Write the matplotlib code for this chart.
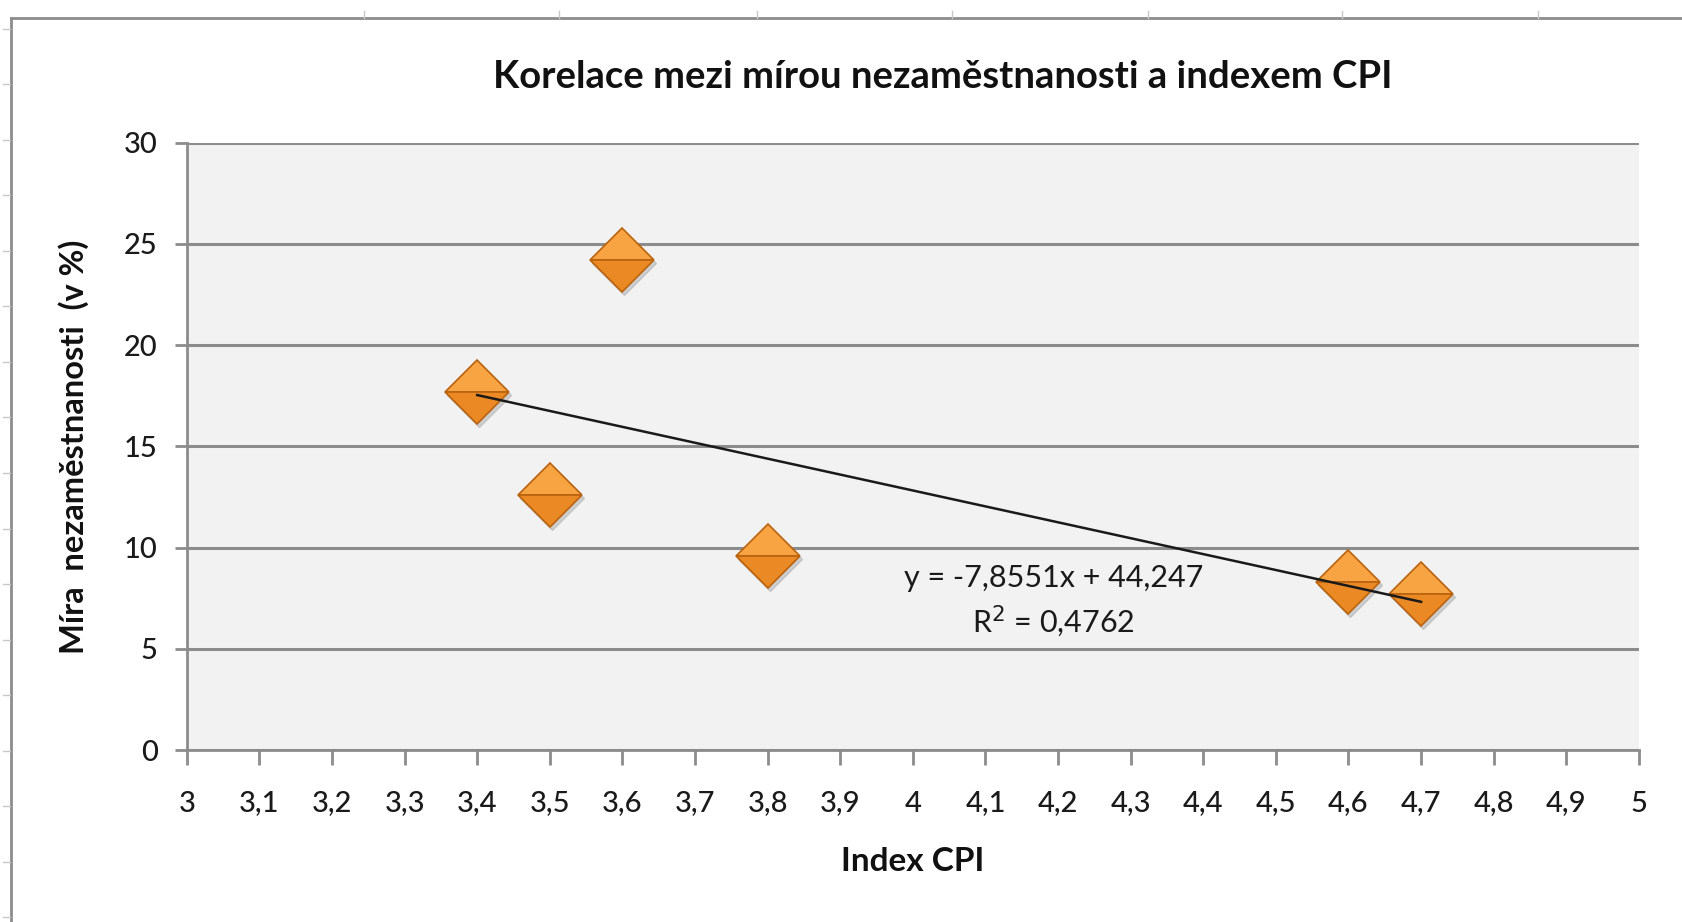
import matplotlib.pyplot as plt
import matplotlib.transforms as mtransforms
from matplotlib.lines import Line2D
import numpy as np

plt.rcParams['font.family'] = ['Lato', 'DejaVu Sans']

# data
cpi = [3.4, 3.5, 3.6, 3.8, 4.6, 4.7]
unemployment = [17.7, 12.6, 24.2, 9.6, 8.3, 7.7]
x_ticks = [3.0, 3.1, 3.2, 3.3, 3.4, 3.5, 3.6, 3.7, 3.8, 3.9, 4.0,
           4.1, 4.2, 4.3, 4.4, 4.5, 4.6, 4.7, 4.8, 4.9, 5.0]
y_ticks = [0, 5, 10, 15, 20, 25, 30]
slope = -7.8551
intercept = 44.247
r2 = 0.4762

def cz(v):
    # czech decimal comma
    return ('%g' % v).replace('.', ',')

fig = plt.figure(figsize=(16.83, 9.22), dpi=100)
ax = fig.add_axes([0.111, 0.1863, 0.8628, 0.6589])
ax.set_facecolor('#f2f2f2')

ax.set_xlim(3, 5)
ax.set_ylim(0, 30)
ax.set_xticks(x_ticks)
ax.set_xticklabels([cz(v) for v in x_ticks])
ax.set_yticks(y_ticks)
ax.set_yticklabels([cz(v) for v in y_ticks])

ax.grid(axis='y', color='#8c8c8c', linewidth=2.2)
ax.set_axisbelow(True)
for side in ['top', 'right']:
    ax.spines[side].set_visible(False)
for side in ['left', 'bottom']:
    ax.spines[side].set_color('#8c8c8c')
    ax.spines[side].set_linewidth(2)
ax.tick_params(axis='x', direction='out', length=11, width=2, color='#8c8c8c',
               labelsize=21, pad=18, labelcolor='#1a1a1a')
ax.tick_params(axis='y', direction='out', length=9, width=2, color='#8c8c8c',
               labelsize=21, pad=12, labelcolor='#1a1a1a')
for lbl in ax.get_xticklabels() + ax.get_yticklabels():
    lbl.set_fontweight('medium')

# trend line
tx = np.array([min(cpi), max(cpi)])
ax.plot(tx, slope * tx + intercept, color='#1a1a1a', linewidth=1.8, zorder=4)

# markers: shadow, then two-tone diamond
shadow = ax.transData + mtransforms.ScaledTranslation(2/100, -3/100, fig.dpi_scale_trans)
ax.plot(cpi, unemployment, linestyle='none', marker='D', markersize=33,
        color='#b0b0b0', alpha=0.55, zorder=2, transform=shadow)
ax.plot(cpi, unemployment, linestyle='none', marker='D', markersize=33,
        fillstyle='top', markerfacecolor='#f8a442', markerfacecoloralt='#eb8a24',
        markeredgecolor='#b8630f', markeredgewidth=1.2, zorder=3)

ax.text(0.597, 0.283, 'y = %sx + %s' % (cz(slope), cz(intercept)),
        transform=ax.transAxes, ha='center', va='center', fontsize=22, color='#1a1a1a', zorder=5)
ax.text(0.597, 0.213, 'R$^2$ = %s' % cz(r2),
        transform=ax.transAxes, ha='center', va='center', fontsize=22, color='#1a1a1a', zorder=5)

fig.text(0.56, 0.917, 'Korelace mezi mírou nezaměstnanosti a indexem CPI',
         ha='center', va='center', fontsize=27.5, fontweight='bold', color='#111111')
ax.set_xlabel('Index CPI', fontsize=24, fontweight='bold', labelpad=22, color='#111111')
ax.set_ylabel('Míra  nezaměstnanosti  (v %)', fontsize=23.5, fontweight='bold',
              labelpad=25, color='#111111')

# outer chart border (top and left), with faint sheet ticks
fig.add_artist(Line2D([11/1683, 1], [1 - 18/922, 1 - 18/922], color='#8c8c8c', linewidth=2))
fig.add_artist(Line2D([11/1683, 11/1683], [0, 1 - 18/922], color='#8c8c8c', linewidth=2))
for px in [364, 559, 757, 952, 1148, 1342, 1538]:
    fig.add_artist(Line2D([px/1683, px/1683], [1 - 18/922, 1 - 11/922], color='#c8c8c8', linewidth=1))
for py in np.arange(29, 922, 55.5):
    fig.add_artist(Line2D([3/1683, 10/1683], [1 - py/922, 1 - py/922], color='#c8c8c8', linewidth=1))

fig.savefig('out.png', dpi=100, facecolor='white')
